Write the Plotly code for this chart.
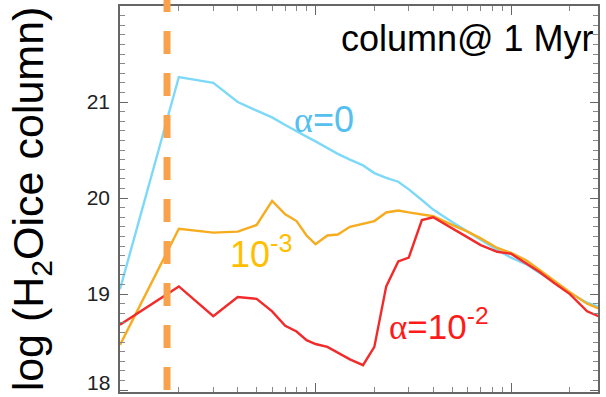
import plotly.graph_objects as go

# Disk radius (AU) at which the ice column was sampled
radius_au = [1, 2, 3, 4, 5, 6, 7, 8, 9, 10, 11.5, 13, 15, 17.5, 20, 23, 26.5, 30, 35, 40,
             50, 60, 70, 85, 100, 120, 140, 165, 200, 245, 280]

# log10 of the H2O ice column density for each turbulence parameter alpha
col_alpha0 = [19.05, 21.26, 21.20, 21.00, 20.91, 20.84, 20.76, 20.70, 20.64, 20.59, 20.52,
              20.46, 20.40, 20.34, 20.26, 20.21, 20.17, 20.09, 19.98, 19.88, 19.75, 19.65,
              19.57, 19.46, 19.38, 19.31, 19.22, 19.13, 19.01, 18.91, 18.87]
col_alpha1e3 = [18.47, 19.68, 19.64, 19.65, 19.72, 19.97, 19.83, 19.76, 19.61, 19.52, 19.61,
                19.62, 19.70, 19.73, 19.76, 19.85, 19.87, 19.85, 19.83, 19.81, 19.72, 19.65,
                19.58, 19.48, 19.43, 19.35, 19.25, 19.14, 19.02, 18.90, 18.85]
col_alpha1e2 = [18.68, 19.08, 18.77, 18.97, 18.95, 18.82, 18.67, 18.61, 18.52, 18.48, 18.45,
                18.39, 18.32, 18.26, 18.45, 19.08, 19.34, 19.38, 19.77, 19.80, 19.68, 19.59,
                19.51, 19.44, 19.42, 19.32, 19.23, 19.12, 19.00, 18.82, 18.77]

snow_line_au = 1.74
y_ticks = [18, 19, 20, 21]
y_tick_text = ["", "19", "20", "21"]
x_major = [1, 10, 100]
x_minor = [2, 3, 4, 5, 6, 7, 8, 9, 20, 30, 40, 50, 60, 70, 80, 90, 200]

BLUE_LINE, BLUE_TXT = "#7dd9f7", "#55bff0"
ORANGE_LINE, ORANGE_TXT = "#f7ab1e", "#ffbf00"
RED_LINE, RED_TXT = "#f22a2a", "#ff1a1a"
AXIS = "#666666"
FONT = "Liberation Sans"

fig = go.Figure()
for ys, col in [(col_alpha0, BLUE_LINE), (col_alpha1e3, ORANGE_LINE), (col_alpha1e2, RED_LINE)]:
    fig.add_trace(go.Scatter(x=radius_au, y=ys, mode="lines",
                             line=dict(color=col, width=2.4), showlegend=False))

# snow line marker, running past the frame (start point sets the dash phase)
fig.add_shape(type="line", xref="x", yref="paper",
              x0=snow_line_au, x1=snow_line_au, y0=-0.1036, y1=1.03,
              line=dict(color="#f9a24c", width=7, dash="23px,19px"), layer="above")

fig.add_annotation(xref="paper", yref="paper", x=0.995, y=0.915, xanchor="right", yanchor="middle",
                   text="column@ 1 Myr", showarrow=False,
                   font=dict(family=FONT, size=36, color="#000000"))
fig.add_annotation(x=0.88, y=20.82, xanchor="left", yanchor="middle", showarrow=False,
                   text="<span style='font-family:Liberation Serif'>α</span>=0",
                   font=dict(family=FONT, size=36, color=BLUE_TXT))
fig.add_annotation(x=0.552, y=19.44, xanchor="left", yanchor="middle", showarrow=False,
                   text="10<sup>-3</sup>",
                   font=dict(family=FONT, size=36, color=ORANGE_TXT))
fig.add_annotation(x=1.366, y=18.68, xanchor="left", yanchor="middle", showarrow=False,
                   text="<span style='font-family:Liberation Serif'>α</span>=10<sup>-2</sup>",
                   font=dict(family=FONT, size=35, color=RED_TXT))
# lowest tick label, lifted so it stays inside the page
fig.add_annotation(xref="paper", x=0, y=18.08, xanchor="right", yanchor="middle", xshift=-8,
                   text="18", showarrow=False, font=dict(family=FONT, size=21, color="#222222"))

fig.update_xaxes(type="log", range=[0, 2.445], tickvals=x_major, showticklabels=False,
                 ticks="inside", ticklen=9, tickwidth=1.2, tickcolor=AXIS,
                 minor=dict(tickvals=x_minor, ticks="inside", ticklen=5, tickwidth=1, tickcolor="#888888"),
                 showline=True, linecolor=AXIS, linewidth=1.6, mirror="ticks", showgrid=False, zeroline=False)
fig.update_yaxes(range=[17.98, 22.0], tickvals=y_ticks, ticktext=y_tick_text, ticks="inside",
                 ticklen=8, tickwidth=1.2, tickcolor=AXIS, ticklabelstandoff=4,
                 minor=dict(dtick=0.1, ticks="inside", ticklen=5, tickwidth=1, tickcolor="#888888"),
                 showline=True, linecolor=AXIS, linewidth=1.6, mirror="ticks", showgrid=False, zeroline=False,
                 tickfont=dict(family=FONT, size=21, color="#222222"),
                 title=dict(text="log (H<sub>2</sub>Oice column)", standoff=30,
                            font=dict(family=FONT, size=43, color="#000000")))

fig.update_layout(width=606, height=397, margin=dict(l=120, r=8, t=6, b=5),
                  paper_bgcolor="white", plot_bgcolor="white")

fig.write_html("out.html")
